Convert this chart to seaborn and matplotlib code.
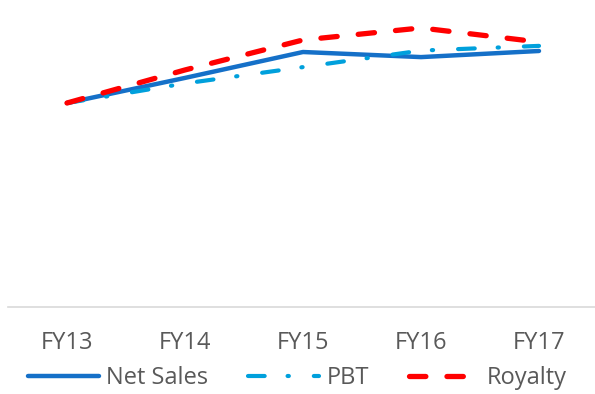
import pandas as pd
import seaborn as sns
import matplotlib.pyplot as plt

# values (index, FY13 = 100)
years = ["FY13", "FY14", "FY15", "FY16", "FY17"]
net_sales = [100, 112.3, 125.0, 122.5, 125.5]
pbt = [100, 109.6, 117.6, 125.7, 128.0]
royalty = [100, 116.2, 130.9, 136.8, 129.9]


def main():
    sns.set_theme(style="white")
    plt.rcParams["font.family"] = ["Open Sans", "DejaVu Sans"]

    df = pd.DataFrame({"year": years, "Net Sales": net_sales, "PBT": pbt, "Royalty": royalty})

    fig = plt.figure(figsize=(5.95, 3.94), dpi=100)
    ax = fig.add_axes([8 / 595, 87 / 394, 590 / 595, 306 / 394])

    sns.lineplot(data=df, x="year", y="Net Sales", ax=ax, color="#1570c8",
                 linewidth=3.2, solid_capstyle="round", label="Net Sales")
    sns.lineplot(data=df, x="year", y="PBT", ax=ax, color="#00a0dc",
                 linewidth=3.0, dashes=(4, 5.5, 0.3, 6), dash_capstyle="round", label="PBT")
    sns.lineplot(data=df, x="year", y="Royalty", ax=ax, color="#ff0000",
                 linewidth=3.8, dashes=(3.1, 4.0), dash_capstyle="round", label="Royalty")

    ax.set_xlim(-0.5, 4.5)
    ax.set_ylim(0, 150)
    ax.set_xlabel("")
    ax.set_ylabel("")
    ax.set_yticks([])
    for s in ["top", "right", "left"]:
        ax.spines[s].set_visible(False)
    ax.spines["bottom"].set_color("#d9d9d9")
    ax.spines["bottom"].set_linewidth(1.2)
    ax.tick_params(axis="x", length=0, pad=17, labelsize=17, labelcolor="#595959")

    ax.get_legend().remove()
    handles, labels = ax.get_legend_handles_labels()
    fig.legend(handles, labels, loc="center", bbox_to_anchor=(0.5, 16 / 394), ncol=3,
               frameon=False, fontsize=17, labelcolor="#595959", handlelength=3.0,
               handletextpad=0.3, columnspacing=1.7)

    fig.savefig("out.png", dpi=100)


if __name__ == '__main__':
    main()
